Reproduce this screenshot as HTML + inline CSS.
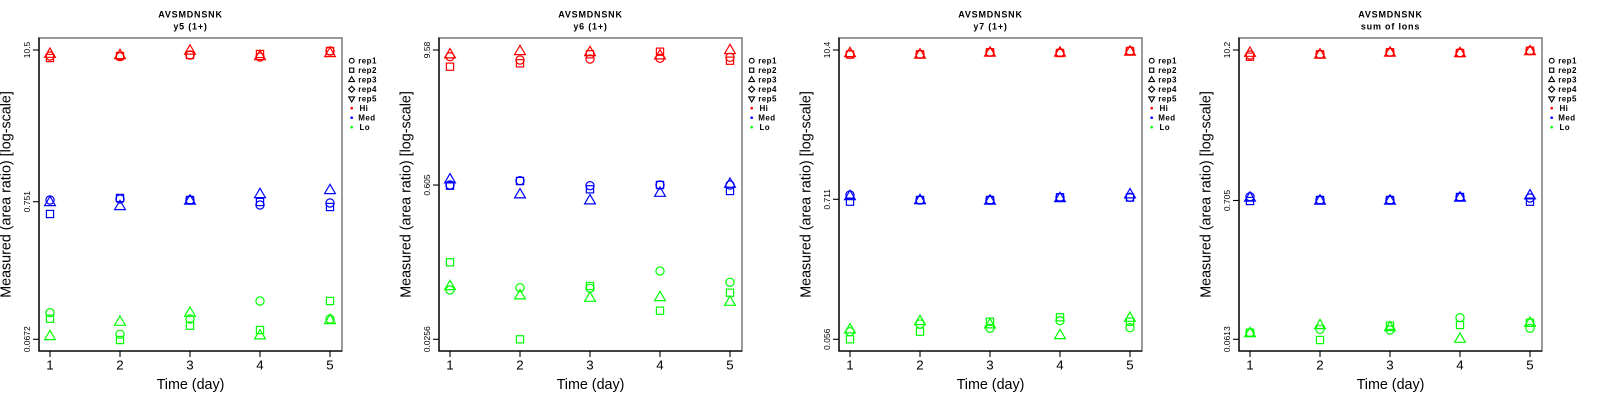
<!DOCTYPE html>
<html><head><meta charset="utf-8"><style>
html,body{margin:0;padding:0;background:#fff;}
svg{display:block;}
text{font-family:"Liberation Sans",Arial,sans-serif;}
.tt{font-weight:bold;font-size:9px;letter-spacing:0.8px;}
.yt{font-size:8.5px;}
.xt{font-size:13.3px;}
.lab{font-size:14.3px;}
.lg{font-size:8px;font-weight:bold;letter-spacing:0.4px;}
</style></head><body>
<svg width="1600" height="400" viewBox="0 0 1600 400" xmlns="http://www.w3.org/2000/svg" xmlns:xlink="http://www.w3.org/1999/xlink">
<defs>
<circle id="c" r="4.1" fill="none"/>
<rect id="s" x="-3.6" y="-3.6" width="7.2" height="7.2" fill="none"/>
<path id="t" d="M0,-6.2 L5.4,3.1 L-5.4,3.1 Z" fill="none"/>
<circle id="lc" r="2.4" fill="none"/>
<rect id="ls" x="-2.1" y="-2.1" width="4.2" height="4.2" fill="none"/>
<path id="lt" d="M0,-3.3 L2.9,1.7 L-2.9,1.7 Z" fill="none"/>
<path id="ld" d="M0,-3 L3,0 L0,3 L-3,0 Z" fill="none"/>
<path id="lv" d="M0,3.3 L2.9,-1.7 L-2.9,-1.7 Z" fill="none"/>
<g id="frame">
  <rect x="39" y="38" width="303" height="313" fill="none" stroke="#808080" stroke-width="1.6"/>
  <line x1="39" y1="37.5" x2="39" y2="351.5" stroke="#000" stroke-width="1.3"/>
  <line x1="38.5" y1="351" x2="342" y2="351" stroke="#000" stroke-width="1.3"/>
  <g stroke="#000" stroke-width="1.1">
    <line x1="50" y1="351" x2="50" y2="357"/>
    <line x1="120" y1="351" x2="120" y2="357"/>
    <line x1="190" y1="351" x2="190" y2="357"/>
    <line x1="260" y1="351" x2="260" y2="357"/>
    <line x1="330" y1="351" x2="330" y2="357"/>
    <line x1="33" y1="50" x2="39" y2="50"/>
    <line x1="33" y1="339.3" x2="39" y2="339.3"/>
  </g>
  <g class="xt" text-anchor="middle" fill="#000">
    <text x="50" y="369.5">1</text>
    <text x="120" y="369.5">2</text>
    <text x="190" y="369.5">3</text>
    <text x="260" y="369.5">4</text>
    <text x="330" y="369.5">5</text>
  </g>
  <text class="lab" x="190.5" y="389" text-anchor="middle">Time (day)</text>
  <text class="lab" transform="translate(10.7,194.5) rotate(-90)" text-anchor="middle">Measured (area ratio) [log-scale]</text>
  <text class="tt" x="190.5" y="17.3" text-anchor="middle">AVSMDNSNK</text>
  <g stroke="#000" stroke-width="1.1" fill="none">
    <use href="#lc" x="351.7" y="60.7"/>
    <use href="#ls" x="351.7" y="70.2"/>
    <use href="#lt" x="351.7" y="79.9"/>
    <use href="#ld" x="351.7" y="89.3"/>
    <use href="#lv" x="351.7" y="98.6"/>
  </g>
  <circle cx="351.7" cy="108.2" r="1.3" fill="#f00"/>
  <circle cx="351.7" cy="117.7" r="1.3" fill="#00f"/>
  <circle cx="351.7" cy="127.2" r="1.3" fill="#0f0"/>
  <g class="lg" fill="#000">
    <text x="358.3" y="63.6">rep1</text>
    <text x="358.3" y="73.1">rep2</text>
    <text x="358.3" y="82.6">rep3</text>
    <text x="358.3" y="92.1">rep4</text>
    <text x="358.3" y="101.6">rep5</text>
    <text x="359.5" y="111.1">Hi</text>
    <text x="358.3" y="120.6">Med</text>
    <text x="359.5" y="130.1">Lo</text>
  </g>
</g>
</defs>

<!-- Panel 1 -->
<g>
  <use href="#frame"/>
  <text class="tt" x="190.5" y="29.3" text-anchor="middle">y5 (1+)</text>
  <g class="yt" text-anchor="middle">
    <text transform="translate(30,50) rotate(-90)">10.5</text>
    <text transform="translate(30,201.7) rotate(-90)">0.751</text>
    <text transform="translate(30,339.3) rotate(-90)">0.0672</text>
  </g>
  <line x1="33" y1="201.7" x2="39" y2="201.7" stroke="#000" stroke-width="1.1"/>
  <g stroke="#f00" stroke-width="1.2">
    <use href="#c" x="50" y="56"/><use href="#s" x="50" y="58"/><use href="#t" x="50" y="54.2"/>
    <use href="#c" x="120" y="56.7"/><use href="#s" x="120" y="56"/><use href="#t" x="120" y="55.5"/>
    <use href="#c" x="190" y="55"/><use href="#s" x="190" y="55"/><use href="#t" x="190" y="51"/>
    <use href="#c" x="260" y="57"/><use href="#s" x="260" y="54"/><use href="#t" x="260" y="56.5"/>
    <use href="#c" x="330" y="51"/><use href="#s" x="330" y="51"/><use href="#t" x="330" y="53.5"/>
  </g>
  <g stroke="#00f" stroke-width="1.2">
    <use href="#c" x="50" y="200"/><use href="#s" x="50" y="214"/><use href="#t" x="50" y="202.5"/>
    <use href="#c" x="120" y="199"/><use href="#s" x="120" y="198"/><use href="#t" x="120" y="206.5"/>
    <use href="#c" x="190" y="200"/><use href="#s" x="190" y="200"/><use href="#t" x="190" y="201"/>
    <use href="#c" x="260" y="205"/><use href="#s" x="260" y="202"/><use href="#t" x="260" y="194.5"/>
    <use href="#c" x="330" y="203"/><use href="#s" x="330" y="207"/><use href="#t" x="330" y="190.5"/>
  </g>
  <g stroke="#0f0" stroke-width="1.2">
    <use href="#c" x="50" y="312.7"/><use href="#s" x="50" y="318.7"/><use href="#t" x="50" y="336.5"/>
    <use href="#c" x="120" y="334.3"/><use href="#s" x="120" y="340"/><use href="#t" x="120" y="322.2"/>
    <use href="#c" x="190" y="319"/><use href="#s" x="190" y="325.7"/><use href="#t" x="190" y="313.2"/>
    <use href="#c" x="260" y="301"/><use href="#s" x="260" y="330"/><use href="#t" x="260" y="335.8"/>
    <use href="#c" x="330" y="319"/><use href="#s" x="330" y="301"/><use href="#t" x="330" y="320.5"/>
  </g>
</g>

<!-- Panel 2 -->
<g transform="translate(400,0)">
  <use href="#frame"/>
  <text class="tt" x="190.5" y="29.3" text-anchor="middle">y6 (1+)</text>
  <g class="yt" text-anchor="middle">
    <text transform="translate(30,50) rotate(-90)">9.58</text>
    <text transform="translate(30,185) rotate(-90)">0.605</text>
    <text transform="translate(30,339.3) rotate(-90)">0.0256</text>
  </g>
  <line x1="33" y1="185" x2="39" y2="185" stroke="#000" stroke-width="1.1"/>
  <g stroke="#f00" stroke-width="1.2">
    <use href="#c" x="50" y="56.7"/><use href="#s" x="50" y="66.7"/><use href="#t" x="50" y="54.8"/>
    <use href="#c" x="120" y="60"/><use href="#s" x="120" y="63.3"/><use href="#t" x="120" y="51.5"/>
    <use href="#c" x="190" y="59"/><use href="#s" x="190" y="54.3"/><use href="#t" x="190" y="52.5"/>
    <use href="#c" x="260" y="58.3"/><use href="#s" x="260" y="51.7"/><use href="#t" x="260" y="55.8"/>
    <use href="#c" x="330" y="57.3"/><use href="#s" x="330" y="60.7"/><use href="#t" x="330" y="50.5"/>
  </g>
  <g stroke="#00f" stroke-width="1.2">
    <use href="#c" x="50" y="185"/><use href="#s" x="50" y="185.7"/><use href="#t" x="50" y="179.8"/>
    <use href="#c" x="120" y="180.7"/><use href="#s" x="120" y="181"/><use href="#t" x="120" y="194.8"/>
    <use href="#c" x="190" y="185.7"/><use href="#s" x="190" y="189.3"/><use href="#t" x="190" y="200.8"/>
    <use href="#c" x="260" y="185"/><use href="#s" x="260" y="185"/><use href="#t" x="260" y="193.2"/>
    <use href="#c" x="330" y="185"/><use href="#s" x="330" y="191"/><use href="#t" x="330" y="184.2"/>
  </g>
  <g stroke="#0f0" stroke-width="1.2">
    <use href="#c" x="50" y="290"/><use href="#s" x="50" y="262.3"/><use href="#t" x="50" y="286.5"/>
    <use href="#c" x="120" y="287.7"/><use href="#s" x="120" y="339.3"/><use href="#t" x="120" y="295.8"/>
    <use href="#c" x="190" y="288.3"/><use href="#s" x="190" y="286"/><use href="#t" x="190" y="298.2"/>
    <use href="#c" x="260" y="271"/><use href="#s" x="260" y="310.7"/><use href="#t" x="260" y="297.5"/>
    <use href="#c" x="330" y="282.3"/><use href="#s" x="330" y="292.7"/><use href="#t" x="330" y="302.2"/>
  </g>
</g>

<!-- Panel 3 -->
<g transform="translate(800,0)">
  <use href="#frame"/>
  <text class="tt" x="190.5" y="29.3" text-anchor="middle">y7 (1+)</text>
  <g class="yt" text-anchor="middle">
    <text transform="translate(30,50) rotate(-90)">10.4</text>
    <text transform="translate(30,199.3) rotate(-90)">0.711</text>
    <text transform="translate(30,339.3) rotate(-90)">0.056</text>
  </g>
  <line x1="33" y1="199.3" x2="39" y2="199.3" stroke="#000" stroke-width="1.1"/>
  <g stroke="#f00" stroke-width="1.2">
    <use href="#c" x="50" y="54.3"/><use href="#s" x="50" y="54.5"/><use href="#t" x="50" y="53.5"/>
    <use href="#c" x="120" y="54.3"/><use href="#s" x="120" y="54.3"/><use href="#t" x="120" y="55"/>
    <use href="#c" x="190" y="52.3"/><use href="#s" x="190" y="52.3"/><use href="#t" x="190" y="53"/>
    <use href="#c" x="260" y="52.7"/><use href="#s" x="260" y="53"/><use href="#t" x="260" y="53"/>
    <use href="#c" x="330" y="51"/><use href="#s" x="330" y="51"/><use href="#t" x="330" y="52"/>
  </g>
  <g stroke="#00f" stroke-width="1.2">
    <use href="#c" x="50" y="195"/><use href="#s" x="50" y="201.7"/><use href="#t" x="50" y="196.5"/>
    <use href="#c" x="120" y="200"/><use href="#s" x="120" y="200"/><use href="#t" x="120" y="200.5"/>
    <use href="#c" x="190" y="200"/><use href="#s" x="190" y="200"/><use href="#t" x="190" y="201"/>
    <use href="#c" x="260" y="197.3"/><use href="#s" x="260" y="197.3"/><use href="#t" x="260" y="198.5"/>
    <use href="#c" x="330" y="197.3"/><use href="#s" x="330" y="197.5"/><use href="#t" x="330" y="194.8"/>
  </g>
  <g stroke="#0f0" stroke-width="1.2">
    <use href="#c" x="50" y="331.7"/><use href="#s" x="50" y="339.3"/><use href="#t" x="50" y="329.8"/>
    <use href="#c" x="120" y="324"/><use href="#s" x="120" y="331.7"/><use href="#t" x="120" y="321.5"/>
    <use href="#c" x="190" y="328.3"/><use href="#s" x="190" y="321.7"/><use href="#t" x="190" y="324.8"/>
    <use href="#c" x="260" y="320.7"/><use href="#s" x="260" y="317.3"/><use href="#t" x="260" y="335.5"/>
    <use href="#c" x="330" y="327.7"/><use href="#s" x="330" y="321.7"/><use href="#t" x="330" y="318.2"/>
  </g>
</g>

<!-- Panel 4 -->
<g transform="translate(1200,0)">
  <use href="#frame"/>
  <text class="tt" x="190.5" y="29.3" text-anchor="middle">sum of Ions</text>
  <g class="yt" text-anchor="middle">
    <text transform="translate(30,50) rotate(-90)">10.2</text>
    <text transform="translate(30,200.5) rotate(-90)">0.705</text>
    <text transform="translate(30,339.3) rotate(-90)">0.0613</text>
  </g>
  <line x1="33" y1="200.5" x2="39" y2="200.5" stroke="#000" stroke-width="1.1"/>
  <g stroke="#f00" stroke-width="1.2">
    <use href="#c" x="50" y="55"/><use href="#s" x="50" y="56.7"/><use href="#t" x="50" y="53.2"/>
    <use href="#c" x="120" y="54.3"/><use href="#s" x="120" y="54.3"/><use href="#t" x="120" y="55"/>
    <use href="#c" x="190" y="52.3"/><use href="#s" x="190" y="52.3"/><use href="#t" x="190" y="53"/>
    <use href="#c" x="260" y="52.7"/><use href="#s" x="260" y="53"/><use href="#t" x="260" y="53.5"/>
    <use href="#c" x="330" y="50.7"/><use href="#s" x="330" y="50.7"/><use href="#t" x="330" y="51.5"/>
  </g>
  <g stroke="#00f" stroke-width="1.2">
    <use href="#c" x="50" y="196.7"/><use href="#s" x="50" y="201"/><use href="#t" x="50" y="198"/>
    <use href="#c" x="120" y="200"/><use href="#s" x="120" y="200"/><use href="#t" x="120" y="201"/>
    <use href="#c" x="190" y="200"/><use href="#s" x="190" y="200"/><use href="#t" x="190" y="201"/>
    <use href="#c" x="260" y="197"/><use href="#s" x="260" y="197"/><use href="#t" x="260" y="198"/>
    <use href="#c" x="330" y="198"/><use href="#s" x="330" y="201.7"/><use href="#t" x="330" y="195.8"/>
  </g>
  <g stroke="#0f0" stroke-width="1.2">
    <use href="#c" x="50" y="332.7"/><use href="#s" x="50" y="332.7"/><use href="#t" x="50" y="333.5"/>
    <use href="#c" x="120" y="329.3"/><use href="#s" x="120" y="340"/><use href="#t" x="120" y="325.5"/>
    <use href="#c" x="190" y="330"/><use href="#s" x="190" y="325.7"/><use href="#t" x="190" y="327.5"/>
    <use href="#c" x="260" y="317.7"/><use href="#s" x="260" y="325"/><use href="#t" x="260" y="339.2"/>
    <use href="#c" x="330" y="328.3"/><use href="#s" x="330" y="322.7"/><use href="#t" x="330" y="323.2"/>
  </g>
</g>
</svg>
</body></html>
